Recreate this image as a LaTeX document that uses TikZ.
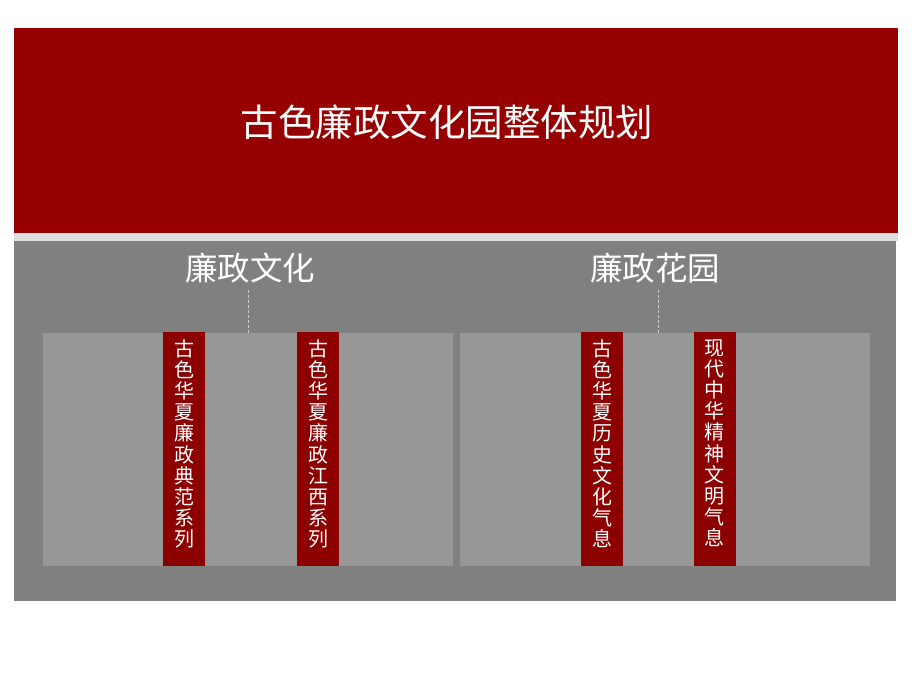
\documentclass[tikz,border=0pt]{standalone}
\usepackage{fontspec}
\setmainfont{Noto Sans CJK SC}
\newfontfamily\cjk{Noto Sans CJK SC}
\definecolor{bannerred}{RGB}{150,0,0}
\definecolor{colred}{RGB}{140,0,0}
\definecolor{outergray}{RGB}{128,128,128}
\definecolor{innergray}{RGB}{151,151,151}
\definecolor{stripgray}{RGB}{222,222,222}
\definecolor{linegray}{RGB}{205,205,205}
\begin{document}
\begin{tikzpicture}[x=1pt,y=-1pt,
  box/.style={draw=none,inner sep=0pt,outer sep=0pt,anchor=north west},
  colbox/.style={fill=colred,inner sep=0pt,outer sep=0pt,minimum width=42pt,minimum height=234pt,anchor=north},
  coltext/.style={text=white,font=\cjk\fontsize{20}{21.2}\selectfont,align=center,anchor=north,inner sep=0pt},
  head/.style={text=white,font=\cjk\fontsize{32.5}{36}\selectfont,inner sep=0pt},
  link/.style={draw=linegray,line width=0.8pt,densely dashed}]
\useasboundingbox[fill=white] (0,0) rectangle (920,690);
% banner
\fill[bannerred] (14,28) rectangle (898,233);
\fill[stripgray] (14,233) rectangle (898,241);
\node[text=white,font=\cjk\fontsize{37.5}{40}\selectfont,inner sep=0pt] (title) at (447,122) {古色廉政文化园整体规划};
% outer gray panel
\fill[outergray] (14,241) rectangle (896,601);
% inner panels
\node[box,fill=innergray,minimum width=410pt,minimum height=233pt] (pL) at (43,333) {};
\node[box,fill=innergray,minimum width=410pt,minimum height=233pt] (pR) at (460,333) {};
% headings
\node[head] (hL) at (250,268) {廉政文化};
\node[head] (hR) at (655,268) {廉政花园};
\coordinate (tL) at (248,290);
\coordinate (tR) at (658,290);
\draw[link] (tL) -- (tL |- pL.north);
\draw[link] (tR) -- (tR |- pR.north);
% red columns
\node[colbox] (c1) at (184,332) {};
\node[colbox] (c2) at (318,332) {};
\node[colbox] (c3) at (602,332) {};
\node[colbox] (c4) at (714.5,332) {};
\node[coltext] (t1) at ([yshift=-7pt]c1.north) {古\\色\\华\\夏\\廉\\政\\典\\范\\系\\列};
\node[coltext] (t2) at ([yshift=-7pt]c2.north) {古\\色\\华\\夏\\廉\\政\\江\\西\\系\\列};
\node[coltext] (t3) at ([yshift=-7pt]c3.north) {古\\色\\华\\夏\\历\\史\\文\\化\\气\\息};
\node[coltext] (t4) at ([yshift=-7pt]c4.north) {现\\代\\中\\华\\精\\神\\文\\明\\气\\息};
\end{tikzpicture}
\end{document}
